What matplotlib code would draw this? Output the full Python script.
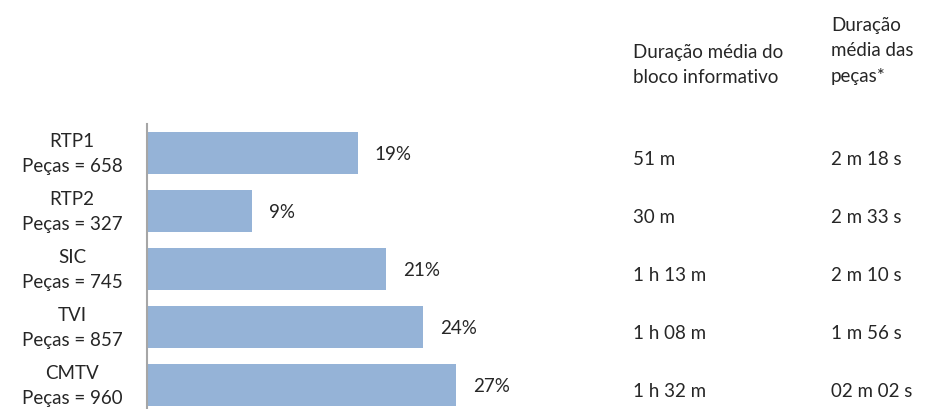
import matplotlib
matplotlib.use("Agg")
import matplotlib.pyplot as plt
import matplotlib.transforms as mtransforms

channels = ["RTP1", "RTP2", "SIC", "TVI", "CMTV"]
pecas = [658, 327, 745, 857, 960]
shares = [18.4, 9.2, 20.9, 24.1, 27.0]
share_labels = ["19%", "9%", "21%", "24%", "27%"]
bloco = ["51 m", "30 m", "1 h 13 m", "1 h 08 m", "1 h 32 m"]
pecas_dur = ["2 m 18 s", "2 m 33 s", "2 m 10 s", "1 m 56 s", "02 m 02 s"]
header1 = "Duração média do\nbloco informativo"
header2 = "Duração\nmédia das\npeças*"

plt.rcParams['font.family'] = ['Lato', 'DejaVu Sans']
txt_color = "#262626"
fs = 13.5

W, H = 933, 409
fig = plt.figure(figsize=(W / 100, H / 100), dpi=100)

left_px, right_px = 147, 600
top_px, bot_px = 124, 414
ax = fig.add_axes([left_px / W, 1 - bot_px / H, (right_px - left_px) / W, (bot_px - top_px) / H])

y = list(range(len(channels)))
ax.barh(y, shares, height=0.71, color="#95B3D7", zorder=2)
ax.set_ylim(len(channels) - 0.5, -0.5)
ax.set_xlim(0, (right_px - left_px) / 11.45)

for s in ["top", "right", "bottom"]:
    ax.spines[s].set_visible(False)
ax.spines["left"].set_color("#A6A6A6")
ax.spines["left"].set_linewidth(1.5)
ax.set_xticks([])
ax.set_yticks(y)
ax.set_yticklabels([f"{c}\nPeças = {p}" for c, p in zip(channels, pecas)],
                   fontsize=fs, color=txt_color, ha="center", linespacing=1.6)
ax.tick_params(axis="y", length=0, pad=54)
lab_shift = mtransforms.ScaledTranslation(0, 3.5 / 72, fig.dpi_scale_trans)
for lbl in ax.get_yticklabels():
    lbl.set_transform(lbl.get_transform() + lab_shift)

for yi, v, lab in zip(y, shares, share_labels):
    ax.annotate(lab, (v, yi), xytext=(12, -1), textcoords="offset points",
                va="center", ha="left", fontsize=fs, color=txt_color)

trans = mtransforms.blended_transform_factory(fig.transFigure, ax.transData)
offset = mtransforms.ScaledTranslation(0, -4.5 / 72, fig.dpi_scale_trans)
for yi, b, d in zip(y, bloco, pecas_dur):
    fig.text(633 / W, yi, b, transform=trans + offset, va="center", ha="left",
             fontsize=fs, color=txt_color)
    fig.text(831 / W, yi, d, transform=trans + offset, va="center", ha="left",
             fontsize=fs, color=txt_color)

fig.text(633 / W, 1 - 65 / H, header1, va="center", ha="left", fontsize=fs,
         color=txt_color, linespacing=1.6)
fig.text(831 / W, 1 - 51 / H, header2, va="center", ha="left", fontsize=fs,
         color=txt_color, linespacing=1.6)

fig.savefig("out.png", dpi=100, facecolor="white")
